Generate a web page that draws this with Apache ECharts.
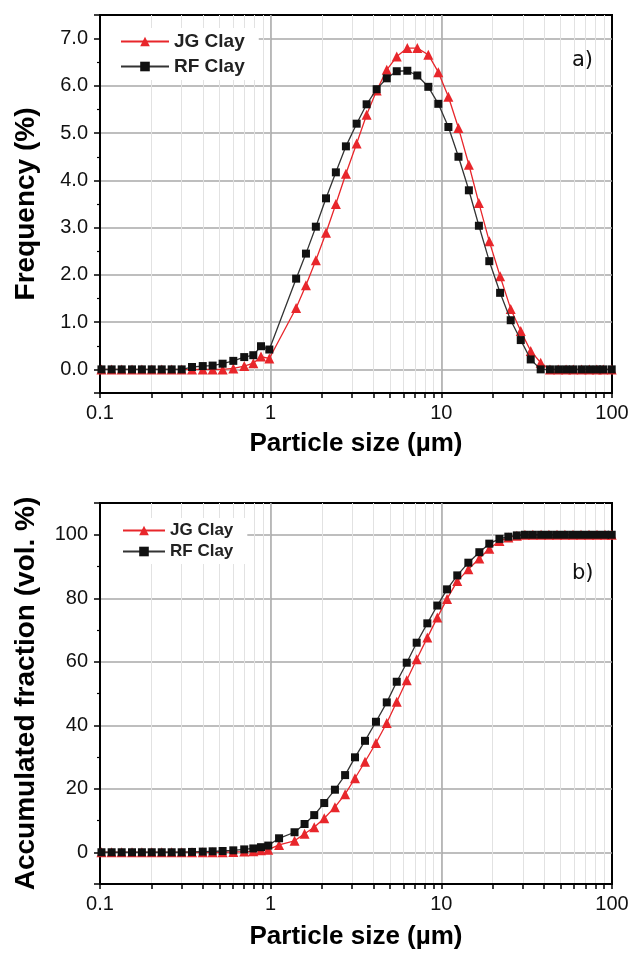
<!DOCTYPE html>
<html><head><meta charset="utf-8">
<script src="https://cdn.jsdelivr.net/npm/echarts@6/dist/echarts.min.js"></script>
<style>html,body{margin:0;padding:0;background:#fff}#c{width:635px;height:956px}</style>
</head><body><div id="c"></div>
<script>
// ---- Panel a) frequency distribution ----
const sizeA = [0.102,0.117,0.134,0.154,0.176,0.201,0.230,0.263,0.301,0.346,0.400,0.457,0.523,0.604,0.700,0.791,0.878,0.982,
  1.41,1.61,1.84,2.11,2.41,2.76,3.19,3.65,4.18,4.79,5.48,6.32,7.23,8.39,9.60,11.0,12.6,14.5,16.6,19.1,22.1,25.5,29.2,33.4,38.2,
  43.3,48.4,53.8,59.3,66.4,73.6,81.4,88.9,99.6];
const freqJG = [0,0,0,0,0,0,0,0,0,0,0,0,0,0.02,0.07,0.13,0.27,0.23,
  1.30,1.78,2.31,2.89,3.50,4.14,4.78,5.39,5.90,6.34,6.62,6.80,6.80,6.66,6.29,5.77,5.11,4.33,3.52,2.71,1.97,1.28,0.81,0.39,0.14,
  0,0,0,0,0,0,0,0,0];
const freqRF = [0,0,0,0,0,0,0,0,0,0.05,0.07,0.08,0.12,0.18,0.26,0.30,0.49,0.42,
  1.92,2.45,3.02,3.62,4.17,4.72,5.20,5.61,5.93,6.16,6.31,6.32,6.22,5.98,5.62,5.13,4.50,3.79,3.04,2.29,1.62,1.04,0.62,0.21,0,
  0,0,0,0,0,0,0,0,0];

// ---- Panel b) accumulated fraction ----
const sizeB = [0.102,0.117,0.134,0.154,0.176,0.201,0.230,0.263,0.301,0.346,0.400,0.457,0.523,0.604,0.700,0.791,0.878,0.968,
  1.12,1.38,1.58,1.80,2.06,2.38,2.73,3.12,3.57,4.14,4.79,5.48,6.27,7.17,8.28,9.47,10.8,12.4,14.4,16.7,19.1,21.9,24.7,27.7,
  30.9,34.4,38.4,42.7,47.6,53.0,59.1,65.8,73.3,81.7,91.0,99.6];
const cumJG = [0,0,0,0,0,0,0,0,0,0,0,0,0,0.1,0.2,0.3,0.6,0.8,
  2.3,3.6,5.8,7.9,10.7,14.2,18.3,23.3,28.5,34.4,40.7,47.4,54.2,60.8,67.6,73.9,79.8,85.4,89.1,92.5,95.6,98.0,99.1,99.7,
  100,100,100,100,100,100,100,100,100,100,100,100];
const cumRF = [0,0,0,0,0,0,0,0,0,0.1,0.2,0.3,0.4,0.6,0.9,1.2,1.6,2.1,
  4.4,6.3,8.9,11.7,15.5,19.7,24.3,29.9,35.1,41.1,47.2,53.7,59.7,66.0,72.1,77.7,82.8,87.2,91.2,94.5,97.2,98.7,99.4,99.8,
  100,100,100,100,100,100,100,100,100,100,100,100];

// ---- axis ticks ----
const xLabelValues = [0.1, 1, 10, 100];
const xTickValues = [0.1,0.2,0.3,0.4,0.5,0.6,0.7,0.8,0.9,1,2,3,4,5,6,7,8,9,10,20,30,40,50,60,70,80,90,100];
const seriesNames = ['JG Clay', 'RF Clay'];

const FONT = '"Liberation Sans", Arial, Helvetica, sans-serif';
const RED = '#e8262b', BLACK = '#111';

function mainX(gridIndex) {
  return {
    type: 'log', logBase: 10, min: 0.1, max: 100, gridIndex, position: 'bottom',
    axisLine: { show: true, onZero: false, lineStyle: { color: '#000', width: 2 } },
    axisTick: { show: true, inside: false, length: 5, customValues: xTickValues, lineStyle: { color: '#000', width: 1.5 } },
    axisLabel: { customValues: xLabelValues, formatter: v => String(+(+v).toPrecision(3)), margin: 10,
      fontSize: 20, color: '#111', fontFamily: FONT },
    splitLine: { show: true, showMinLine: false, showMaxLine: false, lineStyle: { color: '#e2e2e2', width: 1 } },
    name: 'Particle size (µm)', nameLocation: 'middle', nameGap: gridIndex === 0 ? 38 : 40,
    nameTextStyle: { fontSize: 26, fontWeight: 'bold', color: '#000', fontFamily: FONT }
  };
}
function majorX(gridIndex) {
  return {
    type: 'log', logBase: 10, min: 0.1, max: 100, gridIndex, position: 'top',
    axisLine: { show: false }, axisTick: { show: false }, axisLabel: { show: false },
    splitLine: { show: true, showMinLine: false, showMaxLine: false, lineStyle: { color: '#a8a8a8', width: 1.5 } }
  };
}
function yAxis(gridIndex, min, max, split, name, fmt) {
  return {
    type: 'value', gridIndex, min, max, splitNumber: split,
    axisLine: { show: true, onZero: false, lineStyle: { color: '#000', width: 2 } },
    axisTick: { show: true, inside: false, length: 6, lineStyle: { color: '#000', width: 1.5 } },
    minorTick: { show: true, splitNumber: 2, length: 3, lineStyle: { color: '#000', width: 1.2 } },
    axisLabel: { formatter: fmt, showMinLabel: false, showMaxLabel: false, margin: 12,
      fontSize: 20, color: '#111', fontFamily: FONT },
    splitLine: { show: true, showMinLine: false, showMaxLine: false, lineStyle: { color: '#a8a8a8', width: 1.5 } },
    name, nameLocation: 'middle', nameGap: 60,
    nameTextStyle: { fontSize: 28, fontWeight: 'bold', color: '#000', fontFamily: FONT }
  };
}
function mkSeries(name, xs, ys, xi, yi) {
  const isJG = name === 'JG Clay';
  return {
    name, type: 'line', xAxisIndex: xi, yAxisIndex: yi,
    data: xs.map((x, i) => [x, ys[i]]),
    symbol: isJG ? 'triangle' : 'rect', symbolSize: isJG ? 10 : 8,
    itemStyle: { color: isJG ? RED : BLACK },
    lineStyle: { color: isJG ? RED : '#333', width: 1.3 },
    z: isJG ? 3 : 4
  };
}
function mkLegend(top, fs, gap, iw, padL) {
  return {
    data: seriesNames, orient: 'vertical', left: 101, top,
    padding: [4, 14, 4, padL], itemWidth: iw, itemHeight: 12, itemGap: gap,
    backgroundColor: '#fff',
    textStyle: { fontSize: fs, fontWeight: 'bold', color: '#222', fontFamily: FONT }
  };
}

const chart = echarts.init(document.getElementById('c'), null, { renderer: 'canvas' });
chart.setOption({
  animation: false,
  backgroundColor: '#fff',
  title: [
    { text: 'a)', left: 572, top: 50, padding: 0, textStyle: { fontSize: 21, fontWeight: 'normal', color: '#111', fontFamily: '"DejaVu Sans", sans-serif' } },
    { text: 'b)', left: 572, top: 563, padding: 0, textStyle: { fontSize: 21, fontWeight: 'normal', color: '#111', fontFamily: '"DejaVu Sans", sans-serif' } }
  ],
  legend: [mkLegend(28, 19, 6, 48, 19), mkLegend(518, 17, 4, 42, 21)],
  grid: [
    { left: 100, top: 15, width: 512, height: 378, show: true, borderColor: '#000', borderWidth: 2, backgroundColor: 'transparent' },
    { left: 100, top: 503, width: 512, height: 381, show: true, borderColor: '#000', borderWidth: 2, backgroundColor: 'transparent' }
  ],
  xAxis: [mainX(0), majorX(0), mainX(1), majorX(1)],
  yAxis: [
    yAxis(0, -0.5, 7.5, 8, 'Frequency (%)', v => v.toFixed(1)),
    yAxis(1, -10, 110, 6, 'Accumulated fraction (vol. %)', v => String(v))
  ],
  series: [
    mkSeries('JG Clay', sizeA, freqJG, 0, 0),
    mkSeries('RF Clay', sizeA, freqRF, 0, 0),
    mkSeries('JG Clay', sizeB, cumJG, 2, 1),
    mkSeries('RF Clay', sizeB, cumRF, 2, 1)
  ]
});
</script>
</body></html>
